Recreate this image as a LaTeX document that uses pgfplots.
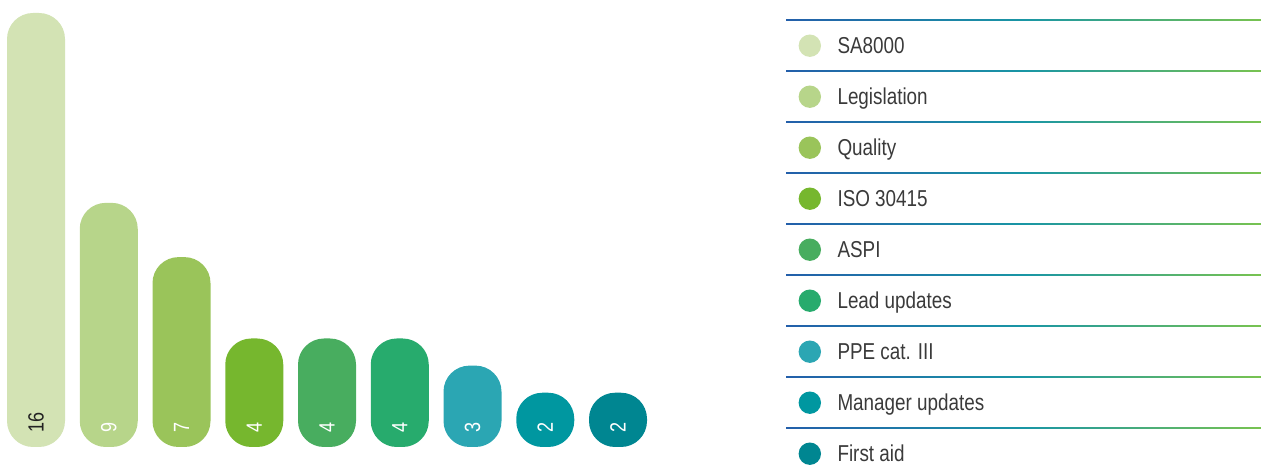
\documentclass[border=0pt]{standalone}
\usepackage{pgfplots}
\pgfplotsset{compat=1.18}
\usepackage{pgfplotstable}
\usepackage{fontspec}
\setmainfont{Liberation Sans}[FakeStretch=0.82]

\definecolor{c0}{HTML}{D3E3B4}
\definecolor{c1}{HTML}{B7D58A}
\definecolor{c2}{HTML}{9AC45A}
\definecolor{c3}{HTML}{76B72E}
\definecolor{c4}{HTML}{48AD5F}
\definecolor{c5}{HTML}{27AB6D}
\definecolor{c6}{HTML}{2BA6B3}
\definecolor{c7}{HTML}{0097A0}
\definecolor{c8}{HTML}{008691}
\definecolor{labdark}{HTML}{222222}
\definecolor{legtext}{HTML}{3A3A3A}
\definecolor{lnA}{RGB}{35,95,170}
\definecolor{lnB}{RGB}{25,150,165}
\definecolor{lnC}{RGB}{120,195,80}

% one row per bar
\pgfplotstableread{
x v
0 16
1 9
2 7
3 4
4 4
5 4
6 3
7 2
8 2
}\data

\pgfplotsset{
  rbar/.style={ybar, bar width=58pt, bar shift=0pt, draw=none, fill=#1,
    rounded corners=26pt},
  pick/.style={x filter/.expression={\coordindex==#1 ? x : nan}},
  vlabel/.style={only marks, mark=none, forget plot,
    nodes near coords, point meta=explicit,
    /pgf/number format/assume math mode=true,
    nodes near coords style={text=#1, font=\fontsize{22}{22}\selectfont,
      rotate=90, anchor=west, inner sep=0pt, xshift=14pt}},
}

\begin{document}
\begin{tikzpicture}
\useasboundingbox (0,0) rectangle (1261pt,476pt);
\begin{axis}[
  x=72.75pt, y=27.125pt,
  anchor=origin, at={(36pt,29pt)},
  xmin=-0.5, xmax=8.5, ymin=0, ymax=16,
  hide axis, clip=false,
  legend image code/.code={\fill (11.2pt,0pt) circle (11.2pt);},
  legend cell align=left,
  legend style={at={(axis cs:10.48,15.742)}, anchor=north west,
    draw=none, fill=none, inner sep=0pt, column sep=16.5pt, row sep=0pt,
    nodes={inner sep=0pt, minimum height=51pt, text height=16.5pt,
      text depth=0pt, text=legtext, font=\fontsize{23}{23}\selectfont}},
]
\addplot[rbar=c0, pick=0] table[x=x, y=v] {\data};
\addlegendentry{SA8000}
\addplot[rbar=c1, pick=1] table[x=x, y=v] {\data};
\addlegendentry{Legislation}
\addplot[rbar=c2, pick=2] table[x=x, y=v] {\data};
\addlegendentry{Quality}
\addplot[rbar=c3, pick=3] table[x=x, y=v] {\data};
\addlegendentry{ISO 30415}
\addplot[rbar=c4, pick=4] table[x=x, y=v] {\data};
\addlegendentry{ASPI}
\addplot[rbar=c5, pick=5] table[x=x, y=v] {\data};
\addlegendentry{Lead updates}
\addplot[rbar=c6, pick=6] table[x=x, y=v] {\data};
\addlegendentry{PPE cat. III}
\addplot[rbar=c7, pick=7] table[x=x, y=v] {\data};
\addlegendentry{Manager updates}
\addplot[rbar=c8, pick=8] table[x=x, y=v] {\data};
\addlegendentry{First aid}

% value labels at the foot of each bar
\addplot[vlabel=labdark, pick=0] table[x=x, y expr=0, meta=v] {\data};
\addplot[vlabel=white, x filter/.expression={\coordindex==0 ? nan : x}]
  table[x=x, y expr=0, meta=v] {\data};
\end{axis}
\foreach \k in {0,...,8} {
  \shade[left color=lnA, right color=lnC, middle color=lnB]
    (786pt,{456.8pt-51pt*\k}) rectangle (1261pt,{455.2pt-51pt*\k});
}
\end{tikzpicture}
\end{document}
